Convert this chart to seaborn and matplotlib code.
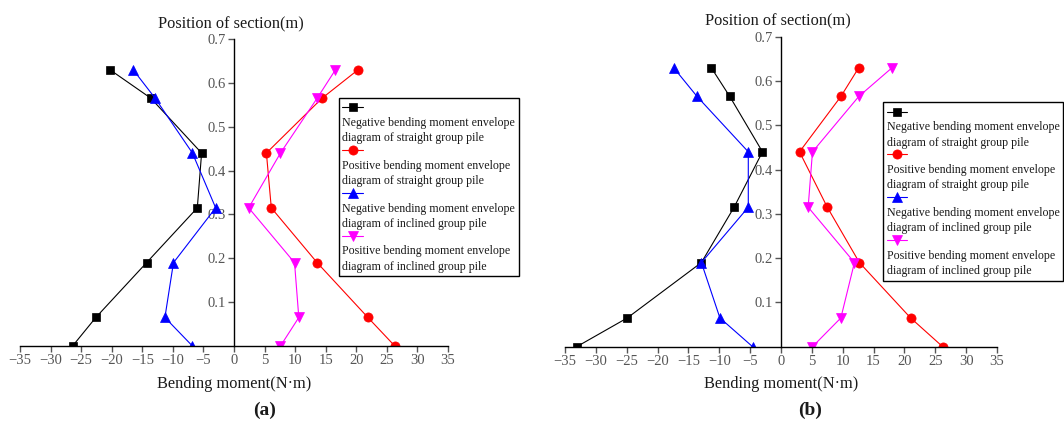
import numpy as np
import pandas as pd
import seaborn as sns
import matplotlib
matplotlib.use("Agg")
import matplotlib.pyplot as plt
from matplotlib.legend_handler import HandlerLine2D
from matplotlib.lines import Line2D

# Section positions along the pile (m)
section = [0, 0.065, 0.19, 0.315, 0.44, 0.565, 0.63]

# Panel (a) bending moment envelopes (N·m)
neg_straight_a = [-26.4, -22.6, -14.3, -6.0, -5.3, -13.6, -20.3]
pos_straight_a = [26.3, 21.9, 13.6, 6.1, 5.3, 14.4, 20.3]
neg_inclined_a = [-6.8, -11.3, -9.9, -3.0, -6.8, -12.9, -16.5]
pos_inclined_a = [7.6, 10.6, 9.9, 2.4, 7.6, 13.6, 16.6]

# Panel (b) bending moment envelopes (N·m)
neg_straight_b = [-33.1, -24.9, -12.9, -7.6, -3.0, -8.3, -11.3]
pos_straight_b = [26.2, 21.0, 12.7, 7.5, 3.0, 9.7, 12.6]
neg_inclined_b = [-4.6, -9.9, -12.9, -5.3, -5.3, -13.6, -17.4]
pos_inclined_b = [5.1, 9.7, 11.9, 4.4, 5.1, 12.6, 18.0]

series_labels = [
    "Negative bending moment envelope\ndiagram of straight group pile",
    "Positive bending moment envelope\ndiagram of straight group pile",
    "Negative bending moment envelope\ndiagram of inclined group pile",
    "Positive bending moment envelope\ndiagram of inclined group pile",
]
x_ticks = list(range(-35, 36, 5))
y_ticks = [0.1, 0.2, 0.3, 0.4, 0.5, 0.6, 0.7]

colors = ["black", "red", "blue", "magenta"]
markers = ["s", "o", "^", "v"]
marker_sizes = [5.4, 6.6, 6.8, 6.8]

sns.set_style("ticks")
plt.rcParams["font.family"] = ["Liberation Serif", "DejaVu Serif"]
plt.rcParams["axes.unicode_minus"] = True

TICK_GREY = "#555555"
TEXT_DARK = "#1a1a1a"
LEGEND_FS = 8.6
LEGEND_LINESPACING = 1.38
TITLE_FS = 11.8


class TopRowHandler(HandlerLine2D):
    """Draws the legend sample on the first (empty) row of a multi-line label."""

    def __init__(self, shift, **kw):
        super().__init__(**kw)
        self.shift = shift

    def create_artists(self, legend, orig_handle, xdescent, ydescent,
                       width, height, fontsize, trans):
        artists = super().create_artists(legend, orig_handle, xdescent, ydescent,
                                         width, height, fontsize, trans)
        for a in artists:
            a.set_ydata(np.asarray(a.get_ydata()) + self.shift * fontsize)
        return artists


def draw_panel(ax, series, legend_anchor):
    for vals, label, color, marker, ms in zip(series, series_labels, colors,
                                               markers, marker_sizes):
        df = pd.DataFrame({"moment": vals, "section": section})
        sns.lineplot(data=df, x="moment", y="section", sort=False, estimator=None,
                     color=color, marker=marker, markersize=ms,
                     markeredgecolor=color, markeredgewidth=0.5,
                     linewidth=0.8, label="\n" + label, ax=ax)

    ax.set_xlim(-35, 35)
    ax.set_ylim(0, 0.7)
    ax.set_xticks(x_ticks)
    ax.set_yticks(y_ticks)
    ax.set_yticklabels([f"{v:.1f}" for v in y_ticks])

    ax.spines["left"].set_position(("data", 0))
    ax.spines["top"].set_visible(False)
    ax.spines["right"].set_visible(False)
    for s in ("left", "bottom"):
        ax.spines[s].set_color("black")
        ax.spines[s].set_linewidth(1.0)

    ax.tick_params(axis="both", direction="out", length=4, width=1.0,
                   color=TICK_GREY, labelcolor=TICK_GREY, labelsize=10.5, pad=2)

    ax.set_xlabel("Bending moment(N·m)", fontsize=TITLE_FS, color=TEXT_DARK, labelpad=6)
    ax.set_ylabel("")
    ax.annotate("Position of section(m)", xy=(0, 1), xycoords=("data", "axes fraction"),
                xytext=(-2, 5), textcoords="offset points", ha="center", va="bottom",
                fontsize=TITLE_FS, color=TEXT_DARK)

    handles, labels = ax.get_legend_handles_labels()
    leg = ax.legend(handles, labels, loc="upper left", bbox_to_anchor=legend_anchor,
                    borderaxespad=0, fontsize=LEGEND_FS, frameon=True, fancybox=False,
                    edgecolor="black", framealpha=1, labelspacing=0.0,
                    handlelength=1.7, handletextpad=-1.7, borderpad=0.3,
                    handler_map={Line2D: TopRowHandler(1.15 * LEGEND_LINESPACING / 1.2)})
    leg.get_frame().set_linewidth(1.0)
    for t in leg.get_texts():
        t.set_color(TEXT_DARK)
        t.set_linespacing(LEGEND_LINESPACING)


fig = plt.figure(figsize=(10.64, 4.25), dpi=100)
ax_a = fig.add_axes([20 / 1064, 79 / 425, 428 / 1064, 307 / 425])
ax_b = fig.add_axes([565 / 1064, 78.3 / 425, 432 / 1064, 310 / 425])

draw_panel(ax_a, [neg_straight_a, pos_straight_a, neg_inclined_a, pos_inclined_a],
           (0.745, 0.808))
draw_panel(ax_b, [neg_straight_b, pos_straight_b, neg_inclined_b, pos_inclined_b],
           (0.736, 0.789))

fig.text(265 / 1064, 1 - 410 / 425, "(a)", ha="center", va="center",
         fontsize=14, fontweight="bold", color=TEXT_DARK)
fig.text(810 / 1064, 1 - 410 / 425, "(b)", ha="center", va="center",
         fontsize=14, fontweight="bold", color=TEXT_DARK)

fig.savefig("out.png", dpi=100)
